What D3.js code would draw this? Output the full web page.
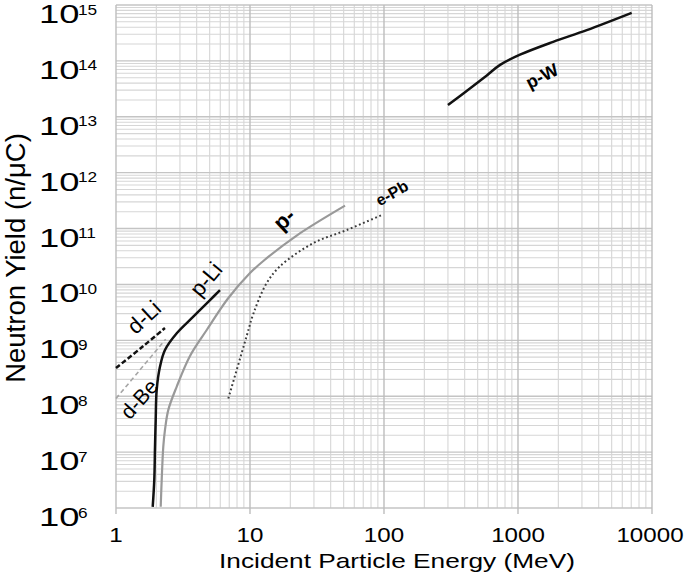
<!DOCTYPE html>
<html>
<head>
	<style>
		body { margin: 0; background: white; }
		text { font-family: "Liberation Sans", Arial, sans-serif; fill: #000; }
	</style>
	<script src="https://d3js.org/d3.v7.min.js"></script>
</head>
<body>
	<svg id="chart" width="685" height="579"></svg>
<script>
// values (energy in MeV, yield in n/uC)
var xTickValues = [1, 10, 100, 1000, 10000];
var xTickLabels = ["1", "10", "100", "1000", "10000"];
var yTickPowers = [6, 7, 8, 9, 10, 11, 12, 13, 14, 15];

var dLiEnergy = [1, 1.6, 2.32];
var dLiYield  = [3.2e8, 7.9e8, 1.66e9];

var dBeEnergy = [1, 1.5, 2.35];
var dBeYield  = [9.1e7, 2.9e8, 1.05e9];

var pLiEnergy = [1.879, 1.931, 1.955, 1.978, 2.012, 2.13, 2.32, 2.84, 3.775, 5.03, 5.97];
var pLiYield  = [1.05e6, 3.18e6, 1.25e7, 3.77e7, 1.3e8, 3.39e8, 6.73e8, 1.34e9, 2.65e9, 5.25e9, 7.9e9];

var pGrayEnergy = [2.156, 2.193, 2.254, 2.32, 2.457, 2.84, 3.566, 4.753, 6.85, 10, 12.57, 22.3, 51.2];
var pGrayYield  = [1.05e6, 3.18e6, 1.25e7, 2.5e7, 5.7e7, 1.49e8, 5.26e8, 1.53e9, 5.6e9, 1.6e10, 2.63e10, 7.5e10, 2.57e11];

var ePbEnergy = [6.89, 9.45, 10.6, 13.3, 16.7, 29.7, 52.7, 96];
var ePbYield  = [9.1e7, 1.2e9, 3e9, 1.05e10, 2.1e10, 5.5e10, 9.4e10, 1.74e11];

var pWEnergy = [300, 440, 585, 735, 1035, 1830, 3260, 7050];
var pWYield  = [1.62e13, 3.24e13, 5.5e13, 8.5e13, 1.29e14, 2.19e14, 3.55e14, 7.24e14];

var svg = d3.select("svg#chart");
var plot = { left: 116, right: 652, top: 5, bottom: 508 };

var x = d3.scaleLog().domain([1, 10000]).range([plot.left, plot.right]);
var y = d3.scaleLog().domain([1e6, 1e15]).range([plot.bottom, plot.top]);

function isMajor(v) {
	var l = Math.log10(v);
	return Math.abs(l - Math.round(l)) < 1e-6;
}

// grid
var grid = svg.append("g").attr("id", "grid");
var xt = x.ticks();
var yt = y.ticks();

grid.selectAll("line.xminor").data(xt.filter(d => !isMajor(d)))
	.enter().append("line")
	.attr("x1", d => x(d)).attr("x2", d => x(d))
	.attr("y1", plot.top).attr("y2", plot.bottom)
	.style("stroke", "#d6d6d6").style("stroke-width", 1.1);

grid.selectAll("line.yminor").data(yt.filter(d => !isMajor(d)))
	.enter().append("line")
	.attr("x1", plot.left).attr("x2", plot.right)
	.attr("y1", d => y(d)).attr("y2", d => y(d))
	.style("stroke", "#d6d6d6").style("stroke-width", 1.1);

grid.selectAll("line.ymajor").data(yt.filter(isMajor))
	.enter().append("line")
	.attr("x1", plot.left).attr("x2", plot.right)
	.attr("y1", d => y(d)).attr("y2", d => y(d))
	.style("stroke", "#c4c4c4").style("stroke-width", 1.4);

// major x lines run a bit below the axis as ticks
grid.selectAll("line.xmajor").data(xTickValues)
	.enter().append("line")
	.attr("x1", d => x(d)).attr("x2", d => x(d))
	.attr("y1", plot.top).attr("y2", plot.bottom + 6)
	.style("stroke", "#bdbdbd").style("stroke-width", 1.4);

// tick labels
svg.selectAll("text.xtick").data(xTickValues)
	.enter().append("text")
	.attr("transform", d => "translate(" + (d == 10000 ? x(d) - 2 : x(d)) + ",542) scale(1.15,1)")
	.attr("text-anchor", "middle")
	.style("font-size", "21px")
	.text((d, i) => xTickLabels[i]);

yTickPowers.forEach(function(p) {
	var gy = y(Math.pow(10, p));
	svg.append("text")
		.attr("transform", "translate(39," + (gy + 18) + ") scale(1.4,1)")
		.style("font-size", "26px")
		.text("10");
	svg.append("text")
		.attr("transform", "translate(78," + (gy + 9.5) + ") scale(1.15,1)")
		.style("font-size", "15px")
		.text(p);
});

// axis titles
svg.append("text")
	.attr("transform", "translate(397,568) scale(1.25,1)")
	.attr("text-anchor", "middle")
	.style("font-size", "21px")
	.text("Incident Particle Energy (MeV)");

svg.append("text")
	.attr("transform", "translate(25,258) rotate(-90)")
	.attr("text-anchor", "middle")
	.style("font-size", "27.5px")
	.text("Neutron Yield (n/\u03BCC)");

// curves
var line = d3.line()
	.x(d => x(d[0]))
	.y(d => y(d[1]))
	.curve(d3.curveCatmullRom.alpha(0.5));

function draw(energy, yields, color, width, dash) {
	var pts = energy.map((e, i) => [e, yields[i]]);
	svg.append("path")
		.attr("d", line(pts))
		.style("fill", "none")
		.style("stroke", color)
		.style("stroke-width", width)
		.style("stroke-dasharray", dash || null);
}

draw(dBeEnergy, dBeYield, "#a6a6a6", 1.6, "4.5,3");
draw(dLiEnergy, dLiYield, "#111", 2.5, "5,2.5");
draw(pGrayEnergy, pGrayYield, "#999", 2.2);
draw(pLiEnergy, pLiYield, "#111", 2.5);
draw(ePbEnergy, ePbYield, "#3a3a3a", 2, "1.8,2.6");
draw(pWEnergy, pWYield, "#111", 2.5);

// curve labels
var labels = [
	{ t: "d-Li", x: 144, y: 317, r: -43, s: 22, w: "normal" },
	{ t: "d-Be", x: 139, y: 399, r: -48, s: 21, w: "normal" },
	{ t: "p-Li", x: 206, y: 279, r: -50, s: 22, w: "normal" },
	{ t: "p-",   x: 284, y: 219, r: -43, s: 22, w: "bold" },
	{ t: "e-Pb", x: 392, y: 193, r: -30, s: 16, w: "bold" },
	{ t: "p-W",  x: 542, y: 76,  r: -27, s: 18, w: "bold" }
];

svg.selectAll("text.lbl").data(labels)
	.enter().append("text")
	.attr("transform", d => "translate(" + d.x + "," + d.y + ") rotate(" + d.r + ")")
	.attr("text-anchor", "middle")
	.attr("dy", "0.35em")
	.style("font-size", d => d.s + "px")
	.style("font-weight", d => d.w)
	.text(d => d.t);
</script>
</body>
</html>
